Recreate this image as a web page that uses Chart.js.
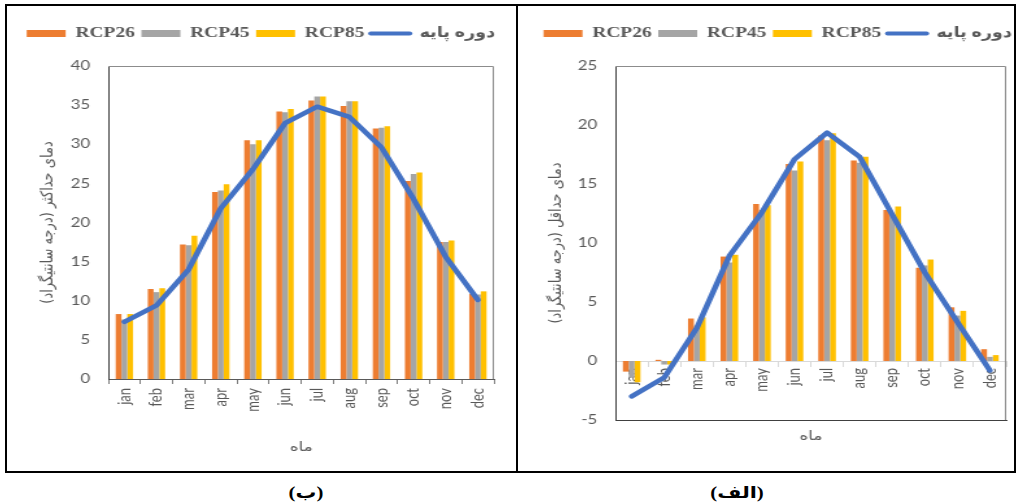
<!DOCTYPE html>
<html>
<head>
<meta charset="utf-8">
<script src="https://cdn.jsdelivr.net/npm/chart.js@4.4.0/dist/chart.umd.min.js"></script>
<style>
body { margin:0; background:#fff; width:1017px; height:504px; position:relative; overflow:hidden; }
#frame { position:absolute; left:5px; top:4px; width:1007px; height:465px; border:2px solid #000; }
#divider { position:absolute; left:516px; top:4px; width:2px; height:469px; background:#000; }
.wrap { position:absolute; top:6px; height:465px; transform-origin:0 0; }
#wl { left:7px; width:392px; transform:scaleX(1.2985); }
#wr { left:518px; width:382px; transform:scaleX(1.2984); }
.cap { position:absolute; top:483px; font:bold 16px "Liberation Serif", "DejaVu Sans", serif; color:#000; transform:translateX(-50%) scaleX(1.3); white-space:nowrap; }
</style>
</head>
<body>
<div id="frame"></div>
<div id="divider"></div>
<div class="wrap" id="wl"><canvas id="maxChart" width="392" height="465"></canvas></div>
<div class="wrap" id="wr"><canvas id="minChart" width="382" height="465"></canvas></div>
<div class="cap" dir="rtl" style="left:306px">(ب)</div>
<div class="cap" dir="rtl" style="left:737px">(الف)</div>
<script>
var months = ['jan','feb','mar','apr','may','jun','jul','aug','sep','oct','nov','dec'];
var seriesNames = ['RCP26','RCP45','RCP85','دوره پایه'];

// (ب) max temperature
var maxRcp26 = [8.3, 11.5, 17.2, 23.9, 30.5, 34.2, 35.6, 34.9, 32.0, 25.3, 17.5, 10.9];
var maxRcp45 = [7.6, 11.1, 17.1, 24.1, 30.0, 34.1, 36.1, 35.5, 32.1, 26.2, 17.5, 10.8];
var maxRcp85 = [8.3, 11.6, 18.3, 24.9, 30.5, 34.5, 36.1, 35.5, 32.3, 26.4, 17.7, 11.2];
var maxBase  = [7.3, 9.4, 14.0, 21.8, 26.8, 32.7, 34.8, 33.5, 29.6, 23.0, 15.6, 10.1];
var maxTicks = [0, 5, 10, 15, 20, 25, 30, 35, 40];

// (الف) min temperature
var minRcp26 = [-0.9, 0.1, 3.6, 8.85, 13.3, 16.7, 19.1, 17.0, 12.8, 7.9, 4.55, 1.0];
var minRcp45 = [-1.4, -0.3, 3.0, 8.35, 12.8, 16.15, 18.7, 16.8, 12.4, 8.1, 3.85, 0.35];
var minRcp85 = [-1.8, -0.3, 3.7, 9.0, 13.2, 16.9, 19.3, 17.3, 13.1, 8.6, 4.25, 0.5];
var minBase  = [-3.0, -1.4, 2.8, 8.9, 12.6, 17.1, 19.35, 17.3, 12.4, 7.5, 3.3, -0.8];
var minTicks = [-5, 0, 5, 10, 15, 20, 25];

var barColors = ['#ED7D31', '#A5A5A5', '#FFC000'];
var lineColor = '#4472C4';
var textColor = '#595959';
var tickFont = {family: 'Lato, "DejaVu Sans", sans-serif', size: 13};
var titleFont = {family: '"DejaVu Sans", sans-serif', size: 13};
var RLM = '\u200F';

function makeDatasets(r26, r45, r85, base) {
  var sets = [r26, r45, r85].map(function(d, i){
    return {type: 'bar', label: seriesNames[i], data: d, backgroundColor: barColors[i], order: 1};
  });
  sets.push({
    type: 'line', label: seriesNames[3], data: base,
    borderColor: lineColor, backgroundColor: lineColor, borderWidth: 4.5,
    pointRadius: 0, tension: 0, borderJoinStyle: 'round', borderCapStyle: 'round', order: 0
  });
  return sets;
}

// fixed legend height, optional horizontal nudge
function legendFix(shift) {
  return {
    id: 'legendFix',
    beforeLayout: function(chart){
      var lg = chart.legend;
      if (lg && !lg._fixed) {
        var f = lg.fit;
        lg.fit = function(){ f.call(this); this.height = 45; };
        lg._fixed = true;
      }
    },
    afterLayout: function(chart){
      if (chart.legend && shift) { chart.legend.left += shift; chart.legend.right += shift; }
    }
  };
}

var plotFrame = {
  id: 'plotFrame',
  afterDraw: function(chart){
    var a = chart.chartArea, c = chart.ctx;
    c.save();
    c.strokeStyle = '#8c8c8c';
    c.lineWidth = 1;
    c.beginPath();
    c.moveTo(a.left, a.top + 0.5);
    c.lineTo(a.right - 0.5, a.top + 0.5);
    c.lineTo(a.right - 0.5, a.bottom);
    c.stroke();
    c.restore();
  }
};

function legendOpts() {
  return {
    position: 'top',
    labels: {
      color: textColor,
      font: {family: '"Liberation Serif", "DejaVu Sans Condensed", "DejaVu Sans", serif', size: 15, weight: 'bold'},
      usePointStyle: true, pointStyleWidth: 30, boxWidth: 30, boxHeight: 7, padding: 5,
      sort: function(a, b){ return a.datasetIndex - b.datasetIndex; },
      generateLabels: function(chart){
        var items = Chart.defaults.plugins.legend.labels.generateLabels(chart);
        items.forEach(function(it){
          if (it.datasetIndex === 3) {
            it.pointStyle = 'line'; it.lineWidth = 4; it.lineCap = 'round'; it.strokeStyle = lineColor;
          } else {
            it.pointStyle = 'rect'; it.lineWidth = 0;
          }
        });
        return items;
      }
    }
  };
}

function yScale(ticks, yTitle, width, titlePad) {
  return {
    min: ticks[0], max: ticks[ticks.length - 1],
    afterBuildTicks: function(s){ s.ticks = ticks.map(function(v){ return {value: v}; }); },
    grid: {display: false, drawTicks: false},
    border: {display: true, color: '#404040', width: 1},
    ticks: {color: textColor, font: tickFont, padding: 14},
    title: {display: true, text: RLM + yTitle + RLM, color: textColor, font: titleFont, padding: {top: titlePad, bottom: 0}},
    afterFit: function(s){ s.width = width; }
  };
}

// left chart: (ب)
new Chart(document.getElementById('maxChart'), {
  data: {labels: months, datasets: makeDatasets(maxRcp26, maxRcp45, maxRcp85, maxBase)},
  options: {
    responsive: false, animation: false,
    layout: {padding: {top: 15, right: 17, left: 0, bottom: 0}},
    datasets: {bar: {categoryPercentage: 0.54, barPercentage: 1}},
    plugins: {legend: legendOpts(), tooltip: {enabled: false}},
    scales: {
      x: {
        position: 'bottom',
        grid: {display: true, drawOnChartArea: false, color: '#7f7f7f', tickLength: 5},
        border: {display: true, color: '#595959'},
        ticks: {color: textColor, font: tickFont, minRotation: 90, maxRotation: 90, autoSkip: false, padding: 4},
        title: {display: true, text: 'ماه', color: textColor, font: titleFont, padding: {top: 0, bottom: 16}},
        afterFit: function(s){ s.height = 92; }
      },
      y: yScale(maxTicks, 'دمای حداکثر (درجه سانتیگراد)', 78, 24)
    }
  },
  plugins: [legendFix(8), plotFrame]
});

// right chart: (الف)
new Chart(document.getElementById('minChart'), {
  data: {labels: months, datasets: makeDatasets(minRcp26, minRcp45, minRcp85, minBase)},
  options: {
    responsive: false, animation: false,
    layout: {padding: {top: 15, right: 6, left: 0, bottom: 0}},
    datasets: {bar: {categoryPercentage: 0.54, barPercentage: 1}},
    plugins: {legend: legendOpts(), tooltip: {enabled: false}},
    scales: {
      x: {
        axis: 'x', position: {y: 0},
        grid: {display: true, drawOnChartArea: false, color: '#d9d9d9', tickLength: 5},
        border: {display: true, color: '#d9d9d9'},
        ticks: {color: textColor, font: tickFont, minRotation: 90, maxRotation: 90, autoSkip: false, padding: 2}
      },
      xb: {
        type: 'category', axis: 'x', position: 'bottom',
        grid: {display: false},
        border: {display: true, color: '#404040'},
        ticks: {display: false},
        title: {display: true, text: 'ماه', color: textColor, font: titleFont, padding: {top: 0, bottom: 27}},
        afterFit: function(s){ s.height = 51; }
      },
      y: yScale(minTicks, 'دمای حداقل (درجه سانتیگراد)', 75, 22)
    }
  },
  plugins: [legendFix(12), plotFrame]
});
</script>
</body>
</html>
